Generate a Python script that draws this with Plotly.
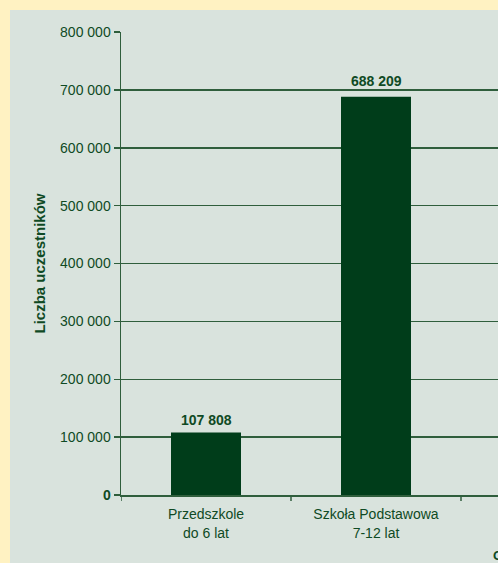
import plotly.graph_objects as go

categories = ["Przedszkole<br>do 6 lat", "Szkoła Podstawowa<br>7-12 lat"]
values = [107808, 688209]
value_labels = ["107 808", "688 209"]
y_tickvals = [0, 100000, 200000, 300000, 400000, 500000, 600000, 700000, 800000]
y_ticktext = ["<b>0</b>", "100 000", "200 000", "300 000", "400 000", "500 000",
              "600 000", "700 000", "800 000"]

W, H = 498, 563
L, T, B = 121, 32, 68
plot_w = W - L
plot_h = H - T - B
cat_px = 170.0

GREEN_TXT = "#0f4a24"
BAR = "#003d1a"
GRID = "#2f5e3c"
PANEL = "#d9e3dd"
OUTER = "#fff2c2"
FONT = "Liberation Sans, Arial, sans-serif"

fig = go.Figure()
fig.add_trace(go.Bar(
    x=[0, 1], y=values,
    width=70 / cat_px,
    marker=dict(color=BAR, line=dict(width=0)),
    hoverinfo="skip",
))

label_shift = [3, 6]
for i, (v, lab) in enumerate(zip(values, value_labels)):
    fig.add_annotation(x=i, y=v, xref="x", yref="y", text="<b>" + lab + "</b>",
                       showarrow=False, yanchor="bottom", yshift=label_shift[i],
                       font=dict(family=FONT, size=14, color=GREEN_TXT))

# panel background (light grey-green) starting 10px in from top-left
x0p = (10 - L) / plot_w
y1p = 1 + (T - 10) / plot_h
fig.add_shape(type="rect", xref="paper", yref="paper",
              x0=x0p, x1=1.2, y0=-0.5, y1=y1p,
              fillcolor=PANEL, line=dict(width=0), layer="below")

# partial text at the bottom right (cut off by the edge)
fig.add_annotation(xref="paper", yref="paper",
                   x=(491 - L) / plot_w, y=-(555 - (T + plot_h)) / plot_h,
                   xanchor="left", yanchor="middle", showarrow=False,
                   text="<b>Grupa wiekowa</b>",
                   font=dict(family=FONT, size=13, color=GREEN_TXT))

x_end = plot_w / cat_px - 0.5

fig.update_layout(
    width=W, height=H,
    margin=dict(l=L, r=0, t=T, b=B, pad=0),
    paper_bgcolor=OUTER,
    plot_bgcolor=PANEL,
    showlegend=False,
    font=dict(family=FONT, color=GREEN_TXT),
    xaxis=dict(
        range=[-0.5, x_end],
        tickmode="array", tickvals=[0, 1], ticktext=categories,
        showgrid=False, zeroline=False,
        showline=True, linecolor=GRID, linewidth=1.5,
        ticks="", ticklabelstandoff=6,
        tickfont=dict(family=FONT, size=14, color=GREEN_TXT),
        fixedrange=True,
    ),
    yaxis=dict(
        range=[0, 800000],
        tickmode="array", tickvals=y_tickvals, ticktext=y_ticktext,
        showgrid=True, gridcolor=GRID, gridwidth=1.5,
        zeroline=False,
        showline=True, linecolor=GRID, linewidth=1.5,
        ticks="outside", ticklen=6, tickcolor=GRID, tickwidth=1.5,
        tickfont=dict(family=FONT, size=14, color=GREEN_TXT),
        title=dict(text="<b>Liczba uczestników</b>", standoff=11,
                   font=dict(family=FONT, size=15, color=GREEN_TXT)),
        fixedrange=True,
    ),
)

# boundary tick marks on the x axis (between categories)
for xb in [-0.5, 0.5, 1.5]:
    fig.add_shape(type="line", xref="x", yref="paper",
                  x0=xb, x1=xb, y0=0, y1=-6 / plot_h,
                  line=dict(color=GRID, width=1.5))

fig.write_html("out.html",
               config={"displayModeBar": False, "staticPlot": True},
               post_script="document.body.style.margin='0';document.body.style.overflow='hidden';")
